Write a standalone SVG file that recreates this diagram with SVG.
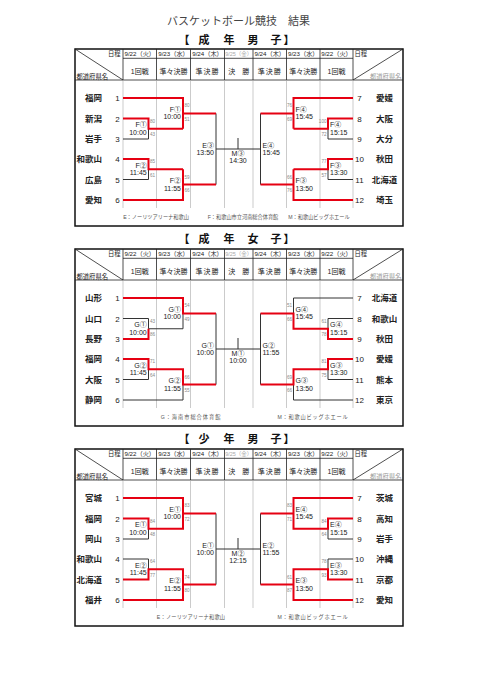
<svg xmlns="http://www.w3.org/2000/svg" width="481" height="680" viewBox="0 0 481 680">
<style>
text{font-family:"Liberation Sans","Noto Sans CJK JP",sans-serif;fill:#222}
.e{text-anchor:end}
.m{text-anchor:middle}
.ttl{font-size:11px;fill:#444}
.hd{font-size:11px;font-weight:bold;fill:#111}
.frame{fill:none;stroke:#111;stroke-width:1.5}
.hl{stroke:#222;stroke-width:0.8;fill:none}
.grid{stroke:#a8a8a8;stroke-width:0.6;fill:none}
.dt{font-size:6.2px}
.dg{font-size:5.5px;fill:#aaa}
.rd{font-size:7px}
.sm{font-size:6.3px}
.smg{font-size:6.3px;fill:#999}
.nm{font-size:8.5px;font-weight:bold}
.no{font-size:8px}
.lb{font-size:7px}
.sc{font-size:4.6px;fill:#888}
.ft{font-size:5.2px;fill:#555}
.k{fill:none;stroke:#333;stroke-width:1}
.r{fill:none;stroke:#e60012;stroke-width:2}
</style>
<defs>
<g id="tbl">
<rect class="frame" x="75" y="49" width="328" height="177"/>
<path class="hl" d="M123,58.3H353M75,80H403M123,49V80M156.5,49V80M190.5,49V80M224.5,49V80M253,49V80M286.5,49V80M320,49V80M353,49V80M75,49L123,80M403,49L353,80"/>
<path class="grid" d="M123,80V208M156.5,80V208M190.5,80V208M224.5,80V208M253,80V208M286.5,80V208M320,80V208M353,80V208"/>
<text class="sm e" x="120.5" y="56">日程</text>
<text class="sm" x="76.5" y="78.5">都道府県名</text>
<text class="sm" x="354.5" y="56">日程</text>
<text class="smg e" x="401.5" y="78.5">都道府県名</text>
<text class="dt m" x="139.75" y="56">9/22（火）</text>
<text class="dt m" x="173.5" y="56">9/23（水）</text>
<text class="dt m" x="207.5" y="56">9/24（木）</text>
<text class="dg m" x="238.75" y="56">9/25（金）</text>
<text class="dt m" x="269.75" y="56">9/24（木）</text>
<text class="dt m" x="303.25" y="56">9/23（水）</text>
<text class="dt m" x="336.5" y="56">9/22（火）</text>
<text class="rd m" x="139.75" y="74">1回戦</text>
<text class="rd m" x="173.5" y="74">準々決勝</text>
<text class="rd m" x="207.5" y="74" letter-spacing="1">準決勝</text>
<text class="rd m" x="238.75" y="74">決　勝</text>
<text class="rd m" x="269.75" y="74" letter-spacing="1">準決勝</text>
<text class="rd m" x="303.25" y="74">準々決勝</text>
<text class="rd m" x="336.5" y="74">1回戦</text>
</g>
<path id="semi" class="k" d="M216,113.4V184.6M216,149H260.5M238,138V149M260.5,113.4V184.6"/>
</defs>

<text class="ttl m" x="238.5" y="25">バスケットボール競技　結果</text>
<text class="hd m" x="184 204 229 253 276 289" y="44">【成年男子】</text>
<text class="hd m" x="184 204 229 253 276 289" y="243">【成年女子】</text>
<text class="hd m" x="184 204 229 253 276 289" y="443">【少年男子】</text>

<!-- ================= SECTION 1 ================= -->
<g id="sec1">
<use href="#tbl"/>
<g id="s1-connectors">
<use href="#semi"/>
<path class="k" d="M123,139H148.5V128.75M123,179.5H148.5V169.25M353,139H328V128.75M353,179.5H328V169.25"/>
<path class="r" d="M123,98H183V128.75M123,118.5H148.5V128.75H183M183,113.4H216M123,159H148.5V169.25H183M123,200H183V169.25M183,184.6H216"/>
<path class="r" d="M353,98H293.5V128.75M353,118.5H328V128.75H293.5M293.5,113.4H260.5M353,159H328V169.25H293.5M353,200H293.5V169.25M293.5,184.6H260.5"/>
</g>
<g id="s1-t1"><text class="nm e" x="102" y="101.2">福岡</text><text class="no m" x="117.5" y="101.2">1</text></g>
<g id="s1-t2"><text class="nm e" x="102" y="121.7">新潟</text><text class="no m" x="117.5" y="121.7">2</text></g>
<g id="s1-t3"><text class="nm e" x="102" y="142.2">岩手</text><text class="no m" x="117.5" y="142.2">3</text></g>
<g id="s1-t4"><text class="nm e" x="102" y="162.2">和歌山</text><text class="no m" x="117.5" y="162.2">4</text></g>
<g id="s1-t5"><text class="nm e" x="102" y="182.7">広島</text><text class="no m" x="117.5" y="182.7">5</text></g>
<g id="s1-t6"><text class="nm e" x="102" y="203.2">愛知</text><text class="no m" x="117.5" y="203.2">6</text></g>
<g id="s1-t7"><text class="no m" x="359.5" y="101.2">7</text><text class="nm m" x="384.5" y="101.2">愛媛</text></g>
<g id="s1-t8"><text class="no m" x="359.5" y="121.7">8</text><text class="nm m" x="384.5" y="121.7">大阪</text></g>
<g id="s1-t9"><text class="no m" x="359.5" y="142.2">9</text><text class="nm m" x="384.5" y="142.2">大分</text></g>
<g id="s1-t10"><text class="no m" x="359.5" y="162.2">10</text><text class="nm m" x="384.5" y="162.2">秋田</text></g>
<g id="s1-t11"><text class="no m" x="359.5" y="182.7">11</text><text class="nm m" x="384.5" y="182.7">北海道</text></g>
<g id="s1-t12"><text class="no m" x="359.5" y="203.2">12</text><text class="nm m" x="384.5" y="203.2">埼玉</text></g>

<g id="s1-L-r1a"><text class="lb e" x="146.7" y="127.25">F①</text><text class="lb e" x="146.7" y="134.75">10:00</text><text class="sc" x="150" y="122.75">80</text><text class="sc" x="150" y="136.25">43</text></g>
<g id="s1-L-qfa"><text class="lb e" x="181" y="111.9">F①</text><text class="lb e" x="181" y="119.4">10:00</text><text class="sc" x="184.5" y="107.4">80</text><text class="sc" x="184.5" y="120.9">51</text></g>
<g id="s1-L-r1b"><text class="lb e" x="146.7" y="167.75">F②</text><text class="lb e" x="146.7" y="175.25">11:45</text><text class="sc" x="150" y="163.25">85</text><text class="sc" x="150" y="176.75">61</text></g>
<g id="s1-L-qfb"><text class="lb e" x="181" y="183.1">F②</text><text class="lb e" x="181" y="190.6">11:55</text><text class="sc" x="184.5" y="178.6">59</text><text class="sc" x="184.5" y="192.1">66</text></g>
<g id="s1-L-sf"><text class="lb e" x="214" y="147.5">E③</text><text class="lb e" x="214" y="155">13:50</text></g>
<g id="s1-final"><text class="lb m" x="238" y="155.5">M③</text><text class="lb m" x="238" y="163">14:30</text></g>
<g id="s1-R-sf"><text class="lb" x="262.5" y="147.5">E④</text><text class="lb" x="262.5" y="155">15:45</text></g>
<g id="s1-R-qfa"><text class="lb" x="295.5" y="111.9">F④</text><text class="lb" x="295.5" y="119.4">15:45</text><text class="sc e" x="292" y="107.4">76</text><text class="sc e" x="292" y="120.9">69</text></g>
<g id="s1-R-r1a"><text class="lb" x="330" y="127.25">F④</text><text class="lb" x="330" y="134.75">15:15</text><text class="sc e" x="326.5" y="122.75">100</text><text class="sc e" x="326.5" y="136.25">72</text></g>
<g id="s1-R-r1b"><text class="lb" x="330" y="167.75">F③</text><text class="lb" x="330" y="175.25">13:30</text><text class="sc e" x="326.5" y="163.25">77</text><text class="sc e" x="326.5" y="176.75">57</text></g>
<g id="s1-R-qfb"><text class="lb" x="295.5" y="183.1">F③</text><text class="lb" x="295.5" y="190.6">13:50</text><text class="sc e" x="292" y="178.6">66</text><text class="sc e" x="292" y="192.1">76</text></g>
<text class="ft m" x="156" y="219">E：ノーリツアリーナ和歌山</text>
<text class="ft m" x="243" y="219">F：和歌山市立河南総合体育館</text>
<text class="ft m" x="319" y="219">M：和歌山ビッグホエール</text>
</g>

<!-- ================= SECTION 2 ================= -->
<g id="sec2" transform="translate(0,200)">
<use href="#tbl"/>
<g id="s2-connectors">
<use href="#semi"/>
<path class="k" d="M123,118.5H148.5V128.75H183V113.4M123,179.5H148.5V169.25M123,200H183V184.6M353,98H293.5V113.4M353,118.5H328V128.75M353,179.5H328V169.25M353,200H293.5V184.6"/>
<path class="r" d="M123,98H183V113.4H216M123,139H148.5V128.75M123,159H148.5V169.25H183V184.6H216"/>
<path class="r" d="M260.5,113.4H293.5V128.75H328V139H353M260.5,184.6H293.5V169.25H328V159H353"/>
</g>
<g id="s2-t1"><text class="nm e" x="102" y="101.2">山形</text><text class="no m" x="117.5" y="101.2">1</text></g>
<g id="s2-t2"><text class="nm e" x="102" y="121.7">山口</text><text class="no m" x="117.5" y="121.7">2</text></g>
<g id="s2-t3"><text class="nm e" x="102" y="142.2">長野</text><text class="no m" x="117.5" y="142.2">3</text></g>
<g id="s2-t4"><text class="nm e" x="102" y="162.2">福岡</text><text class="no m" x="117.5" y="162.2">4</text></g>
<g id="s2-t5"><text class="nm e" x="102" y="182.7">大阪</text><text class="no m" x="117.5" y="182.7">5</text></g>
<g id="s2-t6"><text class="nm e" x="102" y="203.2">静岡</text><text class="no m" x="117.5" y="203.2">6</text></g>
<g id="s2-t7"><text class="no m" x="359.5" y="101.2">7</text><text class="nm m" x="384.5" y="101.2">北海道</text></g>
<g id="s2-t8"><text class="no m" x="359.5" y="121.7">8</text><text class="nm m" x="384.5" y="121.7">和歌山</text></g>
<g id="s2-t9"><text class="no m" x="359.5" y="142.2">9</text><text class="nm m" x="384.5" y="142.2">秋田</text></g>
<g id="s2-t10"><text class="no m" x="359.5" y="162.2">10</text><text class="nm m" x="384.5" y="162.2">愛媛</text></g>
<g id="s2-t11"><text class="no m" x="359.5" y="182.7">11</text><text class="nm m" x="384.5" y="182.7">熊本</text></g>
<g id="s2-t12"><text class="no m" x="359.5" y="203.2">12</text><text class="nm m" x="384.5" y="203.2">東京</text></g>

<g id="s2-L-r1a"><text class="lb e" x="146.7" y="127.25">G①</text><text class="lb e" x="146.7" y="134.75">10:00</text><text class="sc" x="150" y="122.75">43</text><text class="sc" x="150" y="136.25">86</text></g>
<g id="s2-L-qfa"><text class="lb e" x="181" y="111.9">G①</text><text class="lb e" x="181" y="119.4">10:00</text><text class="sc" x="184.5" y="107.4">54</text><text class="sc" x="184.5" y="120.9">49</text></g>
<g id="s2-L-r1b"><text class="lb e" x="146.7" y="167.75">G②</text><text class="lb e" x="146.7" y="175.25">11:45</text><text class="sc" x="150" y="163.25">71</text><text class="sc" x="150" y="176.75">64</text></g>
<g id="s2-L-qfb"><text class="lb e" x="181" y="183.1">G②</text><text class="lb e" x="181" y="190.6">11:55</text><text class="sc" x="184.5" y="178.6">66</text><text class="sc" x="184.5" y="192.1">55</text></g>
<g id="s2-L-sf"><text class="lb e" x="214" y="147.5">G①</text><text class="lb e" x="214" y="155">10:00</text></g>
<g id="s2-final"><text class="lb m" x="238" y="155.5">M①</text><text class="lb m" x="238" y="163">10:00</text></g>
<g id="s2-R-sf"><text class="lb" x="262.5" y="147.5">G②</text><text class="lb" x="262.5" y="155">11:55</text></g>
<g id="s2-R-qfa"><text class="lb" x="295.5" y="111.9">G④</text><text class="lb" x="295.5" y="119.4">15:45</text><text class="sc e" x="292" y="107.4">51</text><text class="sc e" x="292" y="120.9">66</text></g>
<g id="s2-R-r1a"><text class="lb" x="330" y="127.25">G④</text><text class="lb" x="330" y="134.75">15:15</text><text class="sc e" x="326.5" y="122.75">61</text><text class="sc e" x="326.5" y="136.25">78</text></g>
<g id="s2-R-r1b"><text class="lb" x="330" y="167.75">G③</text><text class="lb" x="330" y="175.25">13:30</text><text class="sc e" x="326.5" y="163.25">81</text><text class="sc e" x="326.5" y="176.75">75</text></g>
<g id="s2-R-qfb"><text class="lb" x="295.5" y="183.1">G③</text><text class="lb" x="295.5" y="190.6">13:50</text><text class="sc e" x="292" y="178.6">69</text><text class="sc e" x="292" y="192.1">66</text></g>
<text class="ft m" x="191" y="219" letter-spacing="1">G：海南市総合体育館</text>
<text class="ft m" x="313" y="219" letter-spacing="0.8">M：和歌山ビッグホエール</text>
</g>

<!-- ================= SECTION 3 ================= -->
<g id="sec3" transform="translate(0,400)">
<use href="#tbl"/>
<g id="s3-connectors">
<use href="#semi"/>
<path class="k" d="M123,139H148.5V128.75M123,159H148.5V169.25M353,139H328V128.75M353,159H328V169.25"/>
<path class="r" d="M123,118.5H148.5V128.75H183V98H123M183,113.4H216M123,179.5H148.5V169.25H183V200H123M183,184.6H216"/>
<path class="r" d="M353,118.5H328V128.75H293.5V98H353M293.5,113.4H260.5M353,179.5H328V169.25H293.5V200H353M293.5,184.6H260.5"/>
</g>
<g id="s3-t1"><text class="nm e" x="102" y="101.2">宮城</text><text class="no m" x="117.5" y="101.2">1</text></g>
<g id="s3-t2"><text class="nm e" x="102" y="121.7">福岡</text><text class="no m" x="117.5" y="121.7">2</text></g>
<g id="s3-t3"><text class="nm e" x="102" y="142.2">岡山</text><text class="no m" x="117.5" y="142.2">3</text></g>
<g id="s3-t4"><text class="nm e" x="102" y="162.2">和歌山</text><text class="no m" x="117.5" y="162.2">4</text></g>
<g id="s3-t5"><text class="nm e" x="102" y="182.7">北海道</text><text class="no m" x="117.5" y="182.7">5</text></g>
<g id="s3-t6"><text class="nm e" x="102" y="203.2">福井</text><text class="no m" x="117.5" y="203.2">6</text></g>
<g id="s3-t7"><text class="no m" x="359.5" y="101.2">7</text><text class="nm m" x="384.5" y="101.2">茨城</text></g>
<g id="s3-t8"><text class="no m" x="359.5" y="121.7">8</text><text class="nm m" x="384.5" y="121.7">高知</text></g>
<g id="s3-t9"><text class="no m" x="359.5" y="142.2">9</text><text class="nm m" x="384.5" y="142.2">岩手</text></g>
<g id="s3-t10"><text class="no m" x="359.5" y="162.2">10</text><text class="nm m" x="384.5" y="162.2">沖縄</text></g>
<g id="s3-t11"><text class="no m" x="359.5" y="182.7">11</text><text class="nm m" x="384.5" y="182.7">京都</text></g>
<g id="s3-t12"><text class="no m" x="359.5" y="203.2">12</text><text class="nm m" x="384.5" y="203.2">愛知</text></g>

<g id="s3-L-r1a"><text class="lb e" x="146.7" y="127.25">E①</text><text class="lb e" x="146.7" y="134.75">10:00</text><text class="sc" x="150" y="122.75">84</text><text class="sc" x="150" y="136.25">48</text></g>
<g id="s3-L-qfa"><text class="lb e" x="181" y="111.9">E①</text><text class="lb e" x="181" y="119.4">10:00</text><text class="sc" x="184.5" y="107.4">83</text><text class="sc" x="184.5" y="120.9">72</text></g>
<g id="s3-L-r1b"><text class="lb e" x="146.7" y="167.75">E②</text><text class="lb e" x="146.7" y="175.25">11:45</text><text class="sc" x="150" y="163.25">64</text><text class="sc" x="150" y="176.75">77</text></g>
<g id="s3-L-qfb"><text class="lb e" x="181" y="183.1">E②</text><text class="lb e" x="181" y="190.6">11:55</text><text class="sc" x="184.5" y="178.6">74</text><text class="sc" x="184.5" y="192.1">80</text></g>
<g id="s3-L-sf"><text class="lb e" x="214" y="147.5">E①</text><text class="lb e" x="214" y="155">10:00</text></g>
<g id="s3-final"><text class="lb m" x="238" y="155.5">M②</text><text class="lb m" x="238" y="163">12:15</text></g>
<g id="s3-R-sf"><text class="lb" x="262.5" y="147.5">E②</text><text class="lb" x="262.5" y="155">11:55</text></g>
<g id="s3-R-qfa"><text class="lb" x="295.5" y="111.9">E④</text><text class="lb" x="295.5" y="119.4">15:45</text><text class="sc e" x="292" y="107.4">83</text><text class="sc e" x="292" y="120.9">71</text></g>
<g id="s3-R-r1a"><text class="lb" x="330" y="127.25">E④</text><text class="lb" x="330" y="134.75">15:15</text><text class="sc e" x="326.5" y="122.75">84</text><text class="sc e" x="326.5" y="136.25">64</text></g>
<g id="s3-R-r1b"><text class="lb" x="330" y="167.75">E③</text><text class="lb" x="330" y="175.25">13:30</text><text class="sc e" x="326.5" y="163.25">78</text><text class="sc e" x="326.5" y="176.75">93</text></g>
<g id="s3-R-qfb"><text class="lb" x="295.5" y="183.1">E③</text><text class="lb" x="295.5" y="190.6">13:50</text><text class="sc e" x="292" y="178.6">61</text><text class="sc e" x="292" y="192.1">87</text></g>
<text class="ft m" x="191" y="219" letter-spacing="0.2">E：ノーリツアリーナ和歌山</text>
<text class="ft m" x="313" y="219" letter-spacing="0.8">M：和歌山ビッグホエール</text>
</g>
</svg>
